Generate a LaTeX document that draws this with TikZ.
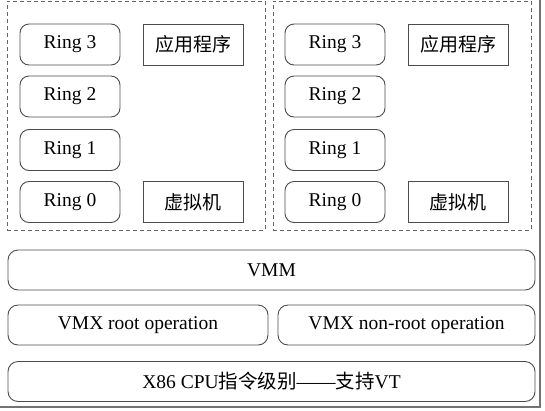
\documentclass[tikz,border=0pt]{standalone}
\usepackage{fontspec}
\setmainfont{Liberation Serif}
\newfontfamily\cjk{Noto Sans CJK SC}
\begin{document}
\begin{tikzpicture}[
		x=1pt, y=-1pt,
		ring/.style={draw=black!70, line width=0.9pt, rounded corners=9pt, minimum width=100pt, minimum height=41pt, font=\fontsize{19.5}{22}\selectfont},
		app/.style={draw=black!70, line width=0.9pt, minimum width=100pt, minimum height=41pt, font=\cjk\fontsize{19}{22}\selectfont},
		vmbox/.style={draw=black!60, line width=0.9pt, dashed, dash pattern=on 4pt off 3pt, minimum width=258pt, minimum height=229pt},
		layer/.style={draw=black!70, line width=0.9pt, rounded corners=10pt, minimum height=40pt, font=\fontsize{19.5}{22}\selectfont}
	]
	\useasboundingbox (0,0) rectangle (545,410);
	% two guests
	\node[vmbox] (vmA) at (136,115.5) {};
	\node[vmbox] (vmB) at (402,115.5) {};

	\node[ring] (ringA3) at (70,44.5) {Ring 3};
	\node[ring] (ringA2) at (70,96.5) {Ring 2};
	\node[ring] (ringA1) at (70,150) {Ring 1};
	\node[ring] (ringA0) at (70,202) {Ring 0};
	\node[app] (appA) at (193,44.5) {应用程序};
	\node[app] (guestA) at (193,202) {虚拟机};

	\node[ring] (ringB3) at (335,44.5) {Ring 3};
	\node[ring] (ringB2) at (335,96.5) {Ring 2};
	\node[ring] (ringB1) at (335,150) {Ring 1};
	\node[ring] (ringB0) at (335,202) {Ring 0};
	\node[app] (appB) at (458,44.5) {应用程序};
	\node[app] (guestB) at (458,202) {虚拟机};

	% host layers
	\node[layer, minimum width=527pt] (vmm) at (271.5,270) {VMM};
	\node[layer, minimum width=260pt] (root) at (138,325) {VMX root operation};
	\node[layer, minimum width=257pt] (nonroot) at (406.5,325) {VMX non-root operation};
	\node[layer, minimum width=527pt] (cpu) at (271.5,381.5) {X86 CPU{\cjk 指令级别}——{\cjk 支持}VT};

	% screenshot edge
	\draw[black!55, line width=1.5pt] (540,0) -- (540,407) -- (0,407);
\end{tikzpicture}
\end{document}
